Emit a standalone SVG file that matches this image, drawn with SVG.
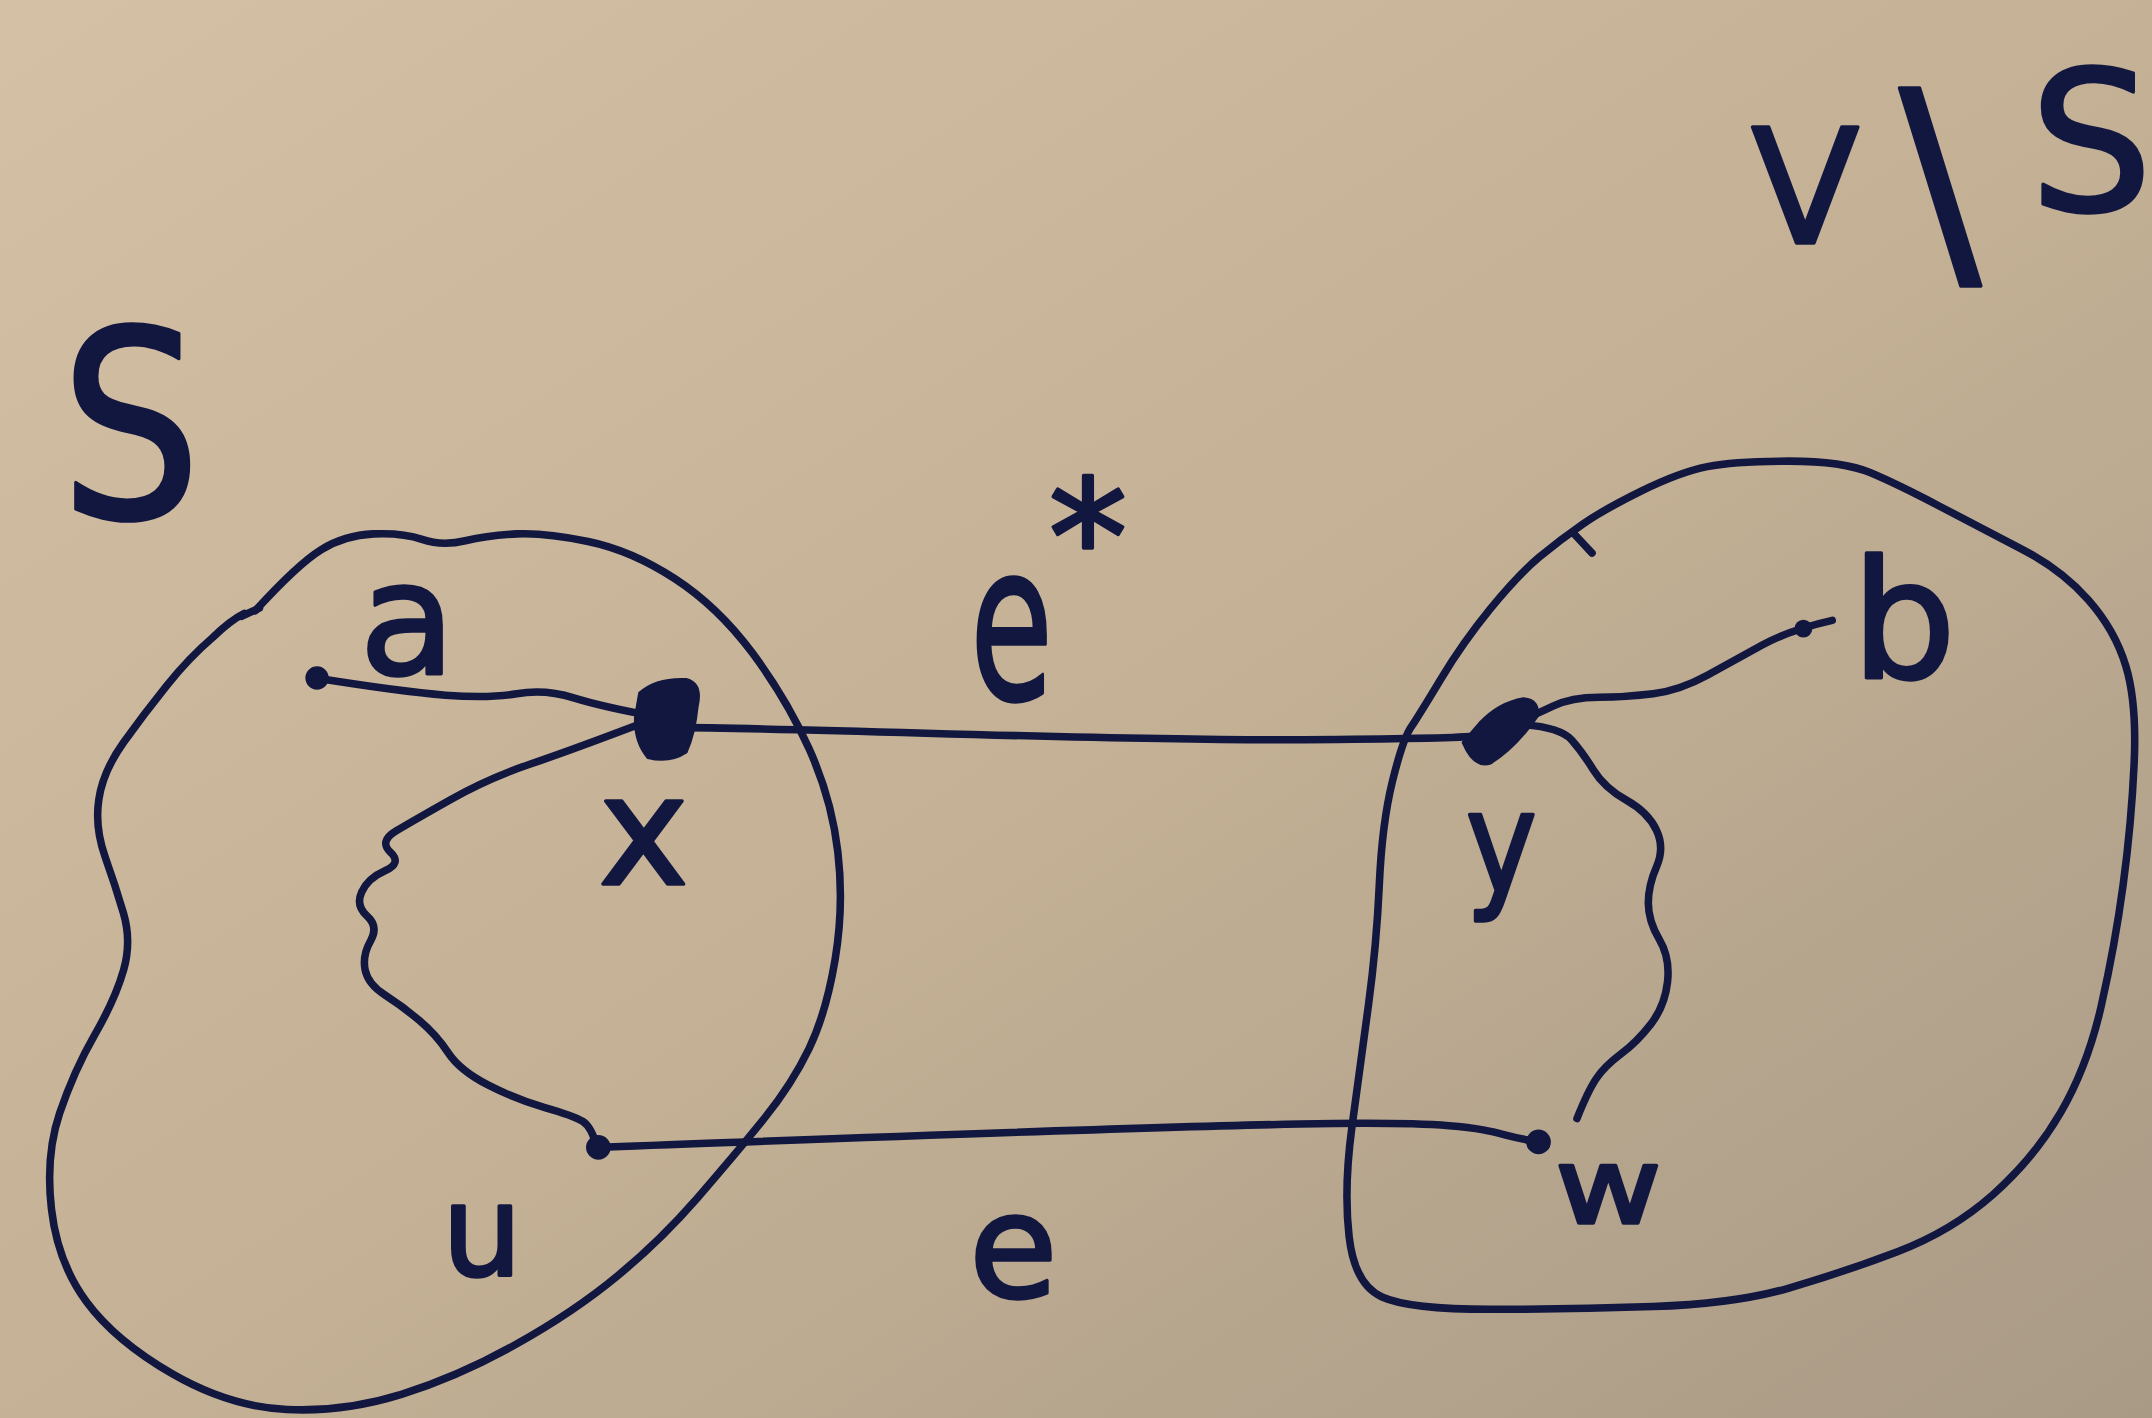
<svg xmlns="http://www.w3.org/2000/svg" width="2152" height="1418" viewBox="0 0 2152 1418">
  <defs>
    <linearGradient id="paper" x1="0" y1="0" x2="1" y2="1">
      <stop offset="0" stop-color="#d4c0a4"/>
      <stop offset="0.5" stop-color="#c5b296"/>
      <stop offset="1" stop-color="#a99a86"/>
    </linearGradient>
    <style>
      .ink { fill: none; stroke: #121740; stroke-width: 5.5; stroke-linecap: round; stroke-linejoin: round; }
      .dot { fill: #121740; stroke: #121740; stroke-width: 2; stroke-linejoin: round; }
      .lbl { font-family: "DejaVu Sans", "Liberation Sans", sans-serif; fill: #121740; stroke: #121740; stroke-width: 2.5; stroke-linejoin: round; }
    </style>
  </defs>

  <rect width="2152" height="1418" fill="url(#paper)"/>

  <!-- drawing laid out in a 1568-wide grid, scaled up to the canvas -->
  <g transform="scale(1.37245)">

    <!-- set S -->
    <g id="set-S">
      <path class="ink" d="M186,445 Q217,411 234,400.5 Q251,390 272,389 Q293,388 307.5,393 Q322,398 339,394 Q356,390 376.5,389 Q397,388 428.5,394.5 Q460,401 491.5,421.5 Q523,442 548,475.5 Q573,509 589.5,545.5 Q606,582 610.5,621 Q615,660 608.5,699 Q602,738 589.5,764 Q577,790 556,816 Q535,842 508,873 Q481,904 449.5,930 Q418,956 376,979.5 Q334,1003 292.5,1016 Q251,1029 209,1027 Q167,1025 125.5,1001 Q84,977 63,948.5 Q42,920 37.5,881 Q33,842 43.5,811 Q54,780 69,754 Q84,728 90,707 Q96,686 90,665.5 Q84,645 76.5,624 Q69,603 72,582.5 Q75,562 90,541 Q105,520 121.5,499.5 Q138,479 155,464.5 Q168,452 178,447"/>
      <path class="ink" d="M176,449 L189,443"/>
      <text class="lbl" transform="translate(44,377) scale(0.85,1)" font-size="190">S</text>
    </g>

    <!-- set V\S -->
    <g id="set-VS">
      <path class="ink" d="M1028,530 Q1034,521 1050,494.5 Q1066,468 1086,443.5 Q1106,419 1121.5,406 Q1137,393 1153,382 Q1169,371 1196.5,357.5 Q1224,344 1244,340 Q1264,336 1303.5,336 Q1343,336 1363,344.5 Q1383,353 1412.5,368.5 Q1442,384 1472,399.5 Q1502,415 1521.5,437 Q1541,459 1549,485.5 Q1557,512 1555,556 Q1553,600 1547,644.5 Q1541,689 1531,733 Q1521,777 1501.5,810.5 Q1482,844 1452,870.5 Q1422,897 1382.5,912 Q1343,927 1303.5,938.5 Q1264,950 1204.5,952 Q1145,954 1086,954 Q1027,954 1007,945 Q987,936 983,901 Q979,866 985,821.5 Q991,777 997,733 Q1003,689 1005,644.5 Q1007,600 1014.5,569.5 Q1022,539 1028,530 Z"/>
      <path class="ink" d="M1146,388 L1160,403"/>
      <text class="lbl"><tspan x="1276" y="177" font-size="115">V</tspan><tspan x="1384" y="192" font-size="176">\</tspan><tspan x="1479" y="153" font-size="141">S</tspan></text>
    </g>

    <!-- edges -->
    <g id="connectors">
      <path class="ink" d="M230,494 Q293,504 324.5,506.5 Q356,509 376.5,505.5 Q397,502 418,508.5 Q439,515 477,522"/>
      <path class="ink" d="M473,525 Q418,546 387,556.5 Q356,567 328.5,582.5 Q301,598 288.5,605.5 Q276,613 284.5,621 Q293,629 280.5,634.5 Q268,640 263.5,650 Q259,660 267.5,667.5 Q276,675 270,685.5 Q264,696 266,706.5 Q268,717 280.5,725 Q293,733 305.5,743.5 Q318,754 326.5,767 Q335,780 355.5,790.5 Q376,801 397,807 Q418,813 424.5,817 Q431,821 435,836"/>
      <path class="ink" d="M486,530 C620,531 800,540 950,539 S1060,536 1090,536"/>
      <path class="ink" d="M435,836 C600,830 800,822 947,819 S1080,826 1121,832"/>
      <path class="ink" d="M1092,532 Q1118,521 1131.5,514.5 Q1145,508 1165,508 Q1185,508 1204.5,505.5 Q1224,503 1244,492 Q1264,481 1284,470 Q1304,459 1335,452"/>
      <path class="ink" d="M1110,528 Q1137,530 1145,539 Q1153,548 1161,561 Q1169,574 1185,583 Q1201,592 1207,605 Q1213,618 1207,631.5 Q1201,645 1201,658 Q1201,671 1209,684.5 Q1217,698 1215,715.5 Q1213,733 1203,746 Q1193,759 1181,768 Q1169,777 1163,786 Q1157,795 1149,815"/>
      <text class="lbl" transform="translate(707,509) scale(0.62,1)" font-size="158">e</text>
      <text class="lbl" x="764" y="432" font-size="115">*</text>
      <text class="lbl" x="706" y="945" font-size="105">e</text>
    </g>

    <!-- vertices -->
    <g id="node-a">
      <circle class="dot" cx="231" cy="494" r="7.5"/>
      <text class="lbl" x="262" y="491" font-size="114">a</text>
    </g>
    <g id="node-x">
      <path class="dot" d="M466,505 Q478,494 500,495 Q512,498 508,515 Q506,535 500,548 Q488,556 472,552 Q462,540 463,522 Z"/>
      <text class="lbl" x="436" y="644" font-size="111">x</text>
    </g>
    <g id="node-u">
      <circle class="dot" cx="436" cy="836" r="8"/>
      <text class="lbl" x="322" y="929" font-size="92">u</text>
    </g>
    <g id="node-y">
      <path class="dot" d="M1066,541 Q1074,560 1086,556 Q1104,545 1120,522 Q1122,510 1110,509 Q1092,512 1078,527 Z"/>
      <text class="lbl" transform="translate(1068,650) scale(0.85,1)" font-size="103">y</text>
    </g>
    <g id="node-b">
      <circle class="dot" cx="1314" cy="458" r="5.5"/>
      <text class="lbl" x="1349" y="494" font-size="120">b</text>
    </g>
    <g id="node-w">
      <circle class="dot" cx="1121" cy="832" r="8"/>
      <text class="lbl" transform="translate(1133,891) scale(1.25,1)" font-size="76">w</text>
    </g>
  </g>
</svg>
